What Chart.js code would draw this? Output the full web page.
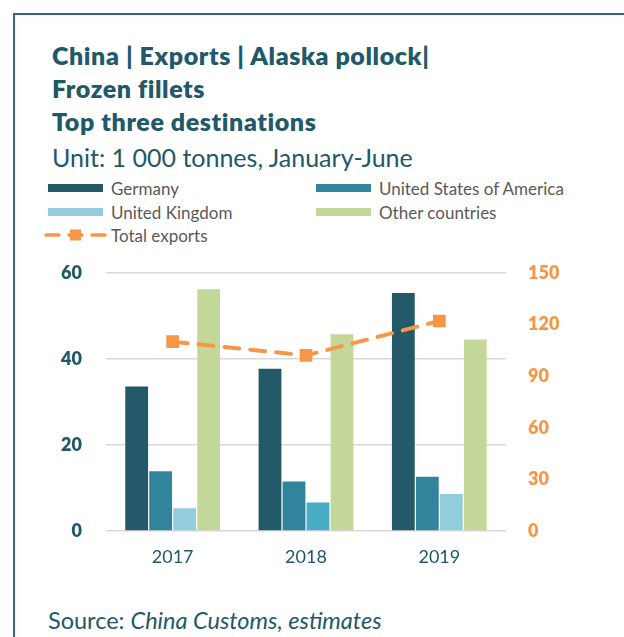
<!DOCTYPE html>
<html>
<head>
<meta charset="utf-8">
<script src="https://cdn.jsdelivr.net/npm/chart.js@4.4.1/dist/chart.umd.min.js"></script>
<style>
  html, body { margin: 0; padding: 0; background: #fff; }
  body { width: 624px; height: 637px; position: relative; overflow: hidden; font-family: Lato, "Open Sans", sans-serif; }
  .frame { position: absolute; left: 13px; top: 13px; width: 700px; height: 700px;
           border-left: 2px solid #36687a; border-top: 2px solid #36687a; }
  .txt { position: absolute; left: 52px; white-space: nowrap; color: #215968; line-height: 1; }
  .title { font-weight: 800; font-size: 25px; letter-spacing: 0.6px; }
  .unit { font-size: 25px; }
  .source { left: 48px; font-size: 23.5px; }
  .legend-item { position: absolute; height: 20px; display: flex; align-items: center;
                 font-size: 17px; color: #595959; white-space: nowrap; }
  .swatch { width: 55px; height: 8px; margin-right: 8px; }
  #chartWrap { position: absolute; left: 0; top: 238px; }
</style>
</head>
<body>
<div class="frame"></div>
<div class="txt title" style="top:43px">China | Exports | Alaska pollock|</div>
<div class="txt title" style="top:76px">Frozen fillets</div>
<div class="txt title" style="top:109px">Top three destinations</div>
<div class="txt unit" style="top:145px">Unit: 1 000 tonnes, January-June</div>
<div id="legend"></div>
<div id="chartWrap"><canvas id="chart" width="624" height="342"></canvas></div>
<div class="txt source" style="top:609px">Source: <i>China Customs, estimates</i></div>

<script>
// ------------------------------------------------------------
// data (1 000 tonnes, January-June)
// ------------------------------------------------------------
const years = ["2017", "2018", "2019"];
const germany = [33.6, 37.7, 55.3];
const usa = [13.9, 11.5, 12.6];
const uk = [5.3, 6.6, 8.6];
const otherCountries = [56.2, 45.7, 44.5];
const totalExports = [110, 102, 122];
const leftTicks = [0, 20, 40, 60];
const rightTicks = [0, 30, 60, 90, 120, 150];

const colors = {
  germany: "#245969",
  usa: "#31849b",
  uk: ["#93cddd", "#4bacc6", "#93cddd"],
  other: "#c4d79b",
  total: "#f79646",
  axis: "#215968",
  grid: "#d9d9d9"
};

Chart.defaults.font.family = "Lato, 'Open Sans', sans-serif";

function barSet(label, data, color) {
  return {
    type: "bar",
    label,
    data,
    backgroundColor: color,
    borderWidth: 0,
    yAxisID: "y",
    order: 1,
    categoryPercentage: 0.72,
    barPercentage: 0.95
  };
}

const datasets = [
  {
    type: "line",
    label: "Total exports",
    data: totalExports,
    yAxisID: "y1",
    order: 0,
    borderColor: colors.total,
    borderWidth: 4,
    borderDash: [15, 11],
    borderCapStyle: "round",
    tension: 0,
    pointStyle: "rect",
    pointRadius: 9,
    pointBorderWidth: 0,
    pointBackgroundColor: colors.total
  },
  barSet("Germany", germany, colors.germany),
  barSet("United States of America", usa, colors.usa),
  barSet("United Kingdom", uk, colors.uk),
  barSet("Other countries", otherCountries, colors.other)
];

// html legend, two columns like the original
const legendPos = [
  { ds: 1, x: 48, y: 178 },
  { ds: 2, x: 316, y: 178 },
  { ds: 3, x: 48, y: 202 },
  { ds: 4, x: 316, y: 202 },
  { ds: 0, x: 44, y: 225 }
];
const legendEl = document.getElementById("legend");
legendPos.forEach(p => {
  const ds = datasets[p.ds];
  const item = document.createElement("div");
  item.className = "legend-item";
  item.style.left = p.x + "px";
  item.style.top = p.y + "px";
  if (ds.type === "line") {
    item.innerHTML =
      '<svg width="67" height="20">' +
      '<line x1="2" y1="10" x2="63" y2="10" stroke="' + colors.total + '" stroke-width="3.5" stroke-dasharray="13 10" stroke-linecap="round"/>' +
      '<rect x="26" y="4.5" width="11" height="11" fill="' + colors.total + '"/></svg>';
  } else {
    const c = Array.isArray(ds.backgroundColor) ? ds.backgroundColor[0] : ds.backgroundColor;
    item.innerHTML = '<div class="swatch" style="background:' + c + '"></div>';
  }
  item.appendChild(document.createTextNode(ds.label));
  legendEl.appendChild(item);
});

new Chart(document.getElementById("chart"), {
  data: { labels: years, datasets },
  options: {
    responsive: false,
    animation: false,
    devicePixelRatio: 1,
    layout: { padding: { top: 11, left: 0, right: 0, bottom: 0 } },
    plugins: {
      legend: { display: false },
      tooltip: { enabled: false }
    },
    scales: {
      x: {
        grid: { display: false },
        border: { display: false },
        ticks: { color: colors.axis, font: { size: 18 }, padding: 7 },
        afterFit: s => { s.height = 49; }
      },
      y: {
        position: "left",
        min: 0,
        max: 60,
        afterBuildTicks: s => { s.ticks = leftTicks.map(v => ({ value: v })); },
        grid: { color: colors.grid, lineWidth: 1.5, drawTicks: false },
        border: { display: false },
        ticks: { color: colors.axis, font: { size: 18, weight: "800" }, padding: 24 },
        afterFit: s => { s.width = 106; }
      },
      y1: {
        position: "right",
        min: 0,
        max: 150,
        afterBuildTicks: s => { s.ticks = rightTicks.map(v => ({ value: v })); },
        grid: { display: false, drawTicks: false },
        border: { display: false },
        ticks: { color: colors.total, font: { size: 18, weight: "800" }, padding: 22 },
        afterFit: s => { s.width = 118; }
      }
    }
  }
});
</script>
</body>
</html>
